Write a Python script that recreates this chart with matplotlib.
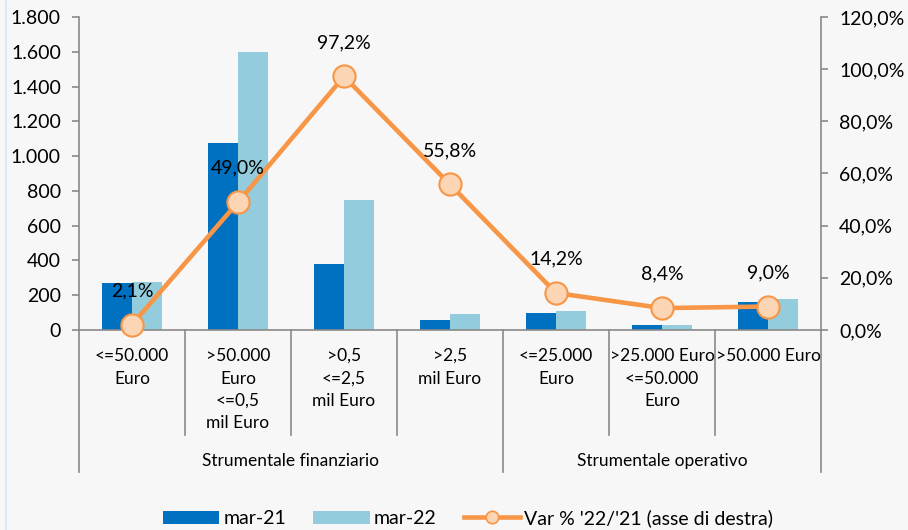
import matplotlib
matplotlib.use("Agg")
import matplotlib.pyplot as plt
import matplotlib.transforms as mtransforms
from matplotlib.lines import Line2D
from matplotlib.patches import Patch
from matplotlib.ticker import FuncFormatter, MultipleLocator

plt.rcParams['font.family'] = ['Lato', 'DejaVu Sans']

categories = ["<=50.000\nEuro", ">50.000\nEuro\n<=0,5\nmil Euro", ">0,5\n<=2,5\nmil Euro",
              ">2,5\nmil Euro", "<=25.000\nEuro", ">25.000 Euro\n<=50.000\nEuro", ">50.000 Euro"]
groups = ["Strumentale finanziario", "Strumentale operativo"]
group_sizes = [4, 3]
mar21 = [270, 1075, 380, 57, 98, 27, 161]
mar22 = [276, 1600, 745, 90, 111, 27, 176]
var_pct = [2.1, 49.0, 97.2, 55.8, 14.2, 8.4, 9.0]
series_names = ["mar-21", "mar-22", "Var % '22/'21 (asse di destra)"]

C_DARK = "#0070C0"
C_LIGHT = "#93CDDD"
C_ORANGE = "#F79646"
C_MFACE = "#FCD5B5"
C_AXIS = "#898989"

W, H = 908, 530
fig = plt.figure(figsize=(W / 100, H / 100), dpi=100, facecolor="#F7F7F7")
L, R, B, T = 79, 821, 330, 17
ax = fig.add_axes([L / W, 1 - B / H, (R - L) / W, (B - T) / H])
ax.set_facecolor("none")

n = len(categories)
x = list(range(n))
bw = 0.283
ax.bar([i - bw / 2 for i in x], mar21, width=bw, color=C_DARK, zorder=2)
ax.bar([i + bw / 2 for i in x], mar22, width=bw, color=C_LIGHT, zorder=2)
ax.set_xlim(-0.5, n - 0.5)
ax.set_ylim(0, 1800)
ax.yaxis.set_major_locator(MultipleLocator(200))
ax.yaxis.set_major_formatter(FuncFormatter(lambda v, p: f"{int(v):,}".replace(",", ".")))
ax.set_xticks([])
for s in ["top", "right"]:
    ax.spines[s].set_visible(False)
for s in ["left", "bottom"]:
    ax.spines[s].set_color(C_AXIS)
    ax.spines[s].set_linewidth(1.2)
ax.tick_params(axis="y", direction="out", length=5, width=1.2, color=C_AXIS,
               labelsize=14, pad=8)

ax2 = ax.twinx()
ax2.set_ylim(0, 120)
ax2.yaxis.set_major_locator(MultipleLocator(20))
ax2.yaxis.set_major_formatter(FuncFormatter(lambda v, p: f"{v:.1f}%".replace(".", ",")))
for s in ["top", "left", "bottom"]:
    ax2.spines[s].set_visible(False)
ax2.spines["right"].set_color(C_AXIS)
ax2.spines["right"].set_linewidth(1.2)
ax2.tick_params(axis="y", direction="out", length=5, width=1.2, color=C_AXIS,
                labelsize=14, pad=8)
ax2.plot(x, var_pct, color=C_ORANGE, lw=3.3, marker="o", ms=16, mfc=C_MFACE,
         mec=C_ORANGE, mew=1.5, zorder=3, clip_on=False)
for i, v in enumerate(var_pct):
    ax2.annotate(f"{v:.1f}%".replace(".", ","), (i, v), xytext=(0, 24.5),
                 textcoords="offset points", ha="center", va="center", fontsize=14,
                 zorder=4)

# multi-level category axis
trans = mtransforms.blended_transform_factory(ax.transData, ax.transAxes)
y_lvl1 = (B - 435) / (B - T)
y_lvl2 = (B - 472) / (B - T)
group_edges = [-0.5]
acc = -0.5
for g in group_sizes:
    acc += g
    group_edges.append(acc)
for k in range(n + 1):
    xb = k - 0.5
    yend = y_lvl2 if any(abs(xb - e) < 1e-9 for e in group_edges) else y_lvl1
    ax.add_line(Line2D([xb, xb], [0, yend], transform=trans, color=C_AXIS,
                       lw=1.2, clip_on=False))
y_cat = (B - 348) / (B - T)
for i, c in enumerate(categories):
    ax.text(i, y_cat, c, transform=trans, ha="center", va="top", fontsize=12.5,
            linespacing=1.5)
y_grp = (B - 461) / (B - T)
for gi, g in enumerate(groups):
    xc = (group_edges[gi] + group_edges[gi + 1]) / 2
    ax.text(xc, y_grp, g, transform=trans, ha="center", va="center", fontsize=12.5)

# faint left border
fig.add_artist(Line2D([6 / W, 6 / W], [0, 1], transform=fig.transFigure,
                      color="#D6ECF6", lw=1.5))

handles = [Patch(facecolor=C_DARK), Patch(facecolor=C_LIGHT),
           Line2D([], [], color=C_ORANGE, lw=3.3, marker="o", ms=9, mfc=C_MFACE,
                  mec=C_ORANGE, mew=1.2)]
fig.legend(handles, series_names, loc="center", bbox_to_anchor=(468 / W, 1 - 518 / H),
           ncol=3, frameon=False, fontsize=14, handlelength=2.9, handleheight=0.65,
           handletextpad=0.2, columnspacing=1.4, borderaxespad=0)

fig.savefig("out.png", dpi=100, facecolor=fig.get_facecolor())
